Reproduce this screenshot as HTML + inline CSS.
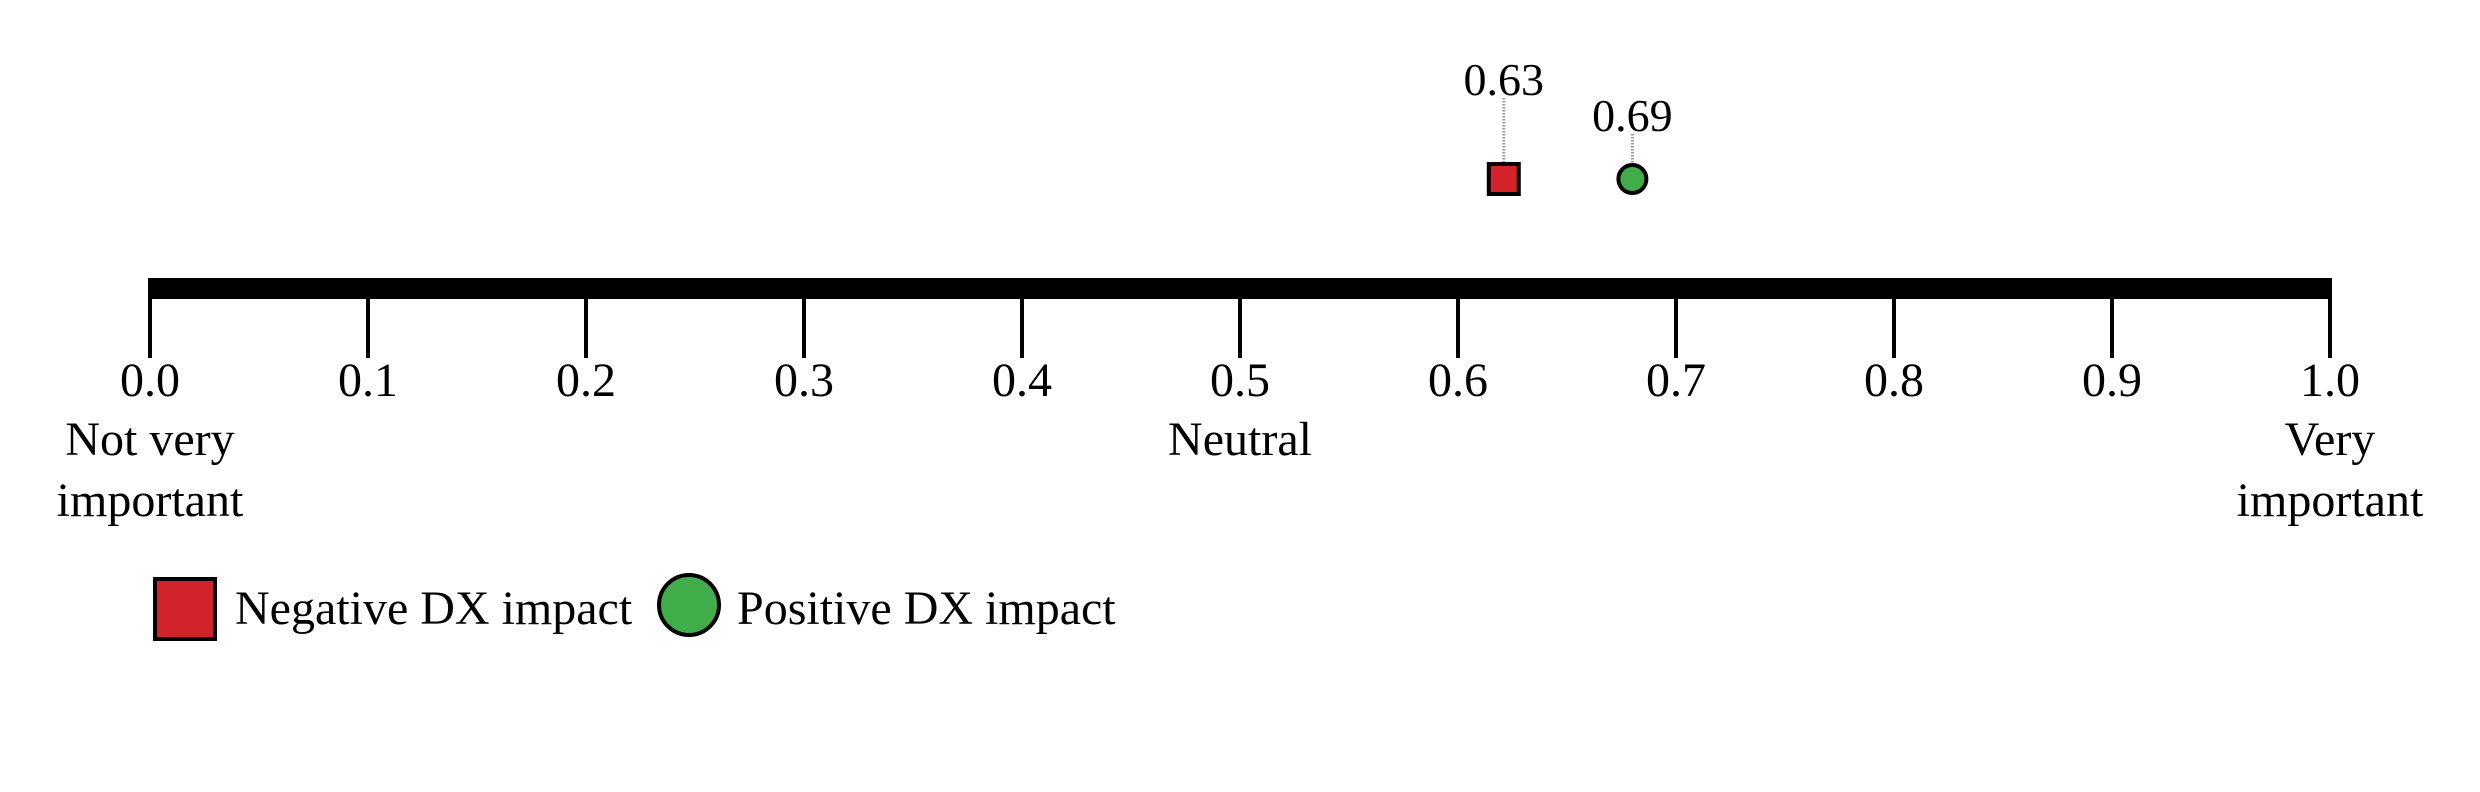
<!DOCTYPE html>
<html><head><meta charset="utf-8"><style>
html,body{margin:0;padding:0;background:#fff;width:2480px;height:792px;overflow:hidden}
svg text{font-family:"Liberation Serif",serif;fill:#000}
</style></head><body>
<svg id="chart" width="2480" height="792" viewBox="0 0 2480 792" xmlns="http://www.w3.org/2000/svg">
<g id="axis"></g>
<g id="marks"></g>
<g id="legend">
  <rect x="155" y="579" width="60" height="60" fill="#d2232a" stroke="#000" stroke-width="4"/>
  <text x="235" y="624" font-size="48">Negative DX impact</text>
  <circle cx="689" cy="605" r="30" fill="#41ac4a" stroke="#000" stroke-width="4"/>
  <text x="737" y="624" font-size="48">Positive DX impact</text>
</g>
</svg>
<script>
const tickValues = [0,0.1,0.2,0.3,0.4,0.5,0.6,0.7,0.8,0.9,1.0];
const tickLabels = ["0.0","0.1","0.2","0.3","0.4","0.5","0.6","0.7","0.8","0.9","1.0"];
const seriesNames = ["Negative DX impact","Positive DX impact"];
const seriesPositions = [0.621,0.680];
const seriesLabels = ["0.63","0.69"];

const NS="http://www.w3.org/2000/svg";
const X0=150,X1=2330;
function xScale(v){return X0+(X1-X0)*v;}
function mk(tag,attrs,parent){const e=document.createElementNS(NS,tag);for(const k in attrs)e.setAttribute(k,attrs[k]);parent.appendChild(e);return e;}
const axis=document.getElementById('axis');
const bar=mk('rect',{x:xScale(0)-2,y:278,width:xScale(1)-xScale(0)+4,height:21,fill:'#000'},axis);


tickValues.forEach((v,i)=>{
  const t=mk('line',{x1:xScale(v),x2:xScale(v),y1:290,y2:358,stroke:'#000','stroke-width':4},axis);
  
  
  const l=mk('text',{x:xScale(v),y:396,'text-anchor':'middle','font-size':48},axis);
  l.textContent=tickLabels[i];
  
  
});
function anchorText(lines,v,name){
  lines.forEach((s,j)=>{
    const l=mk('text',{x:xScale(v),y:455+j*61,'text-anchor':'middle','font-size':48},axis);
    l.textContent=s;
    
    
  });
}
anchorText(["Not very","important"],0,'anchor-label-low');
anchorText(["Neutral"],0.5,'anchor-label-mid');
anchorText(["Very","important"],1,'anchor-label-high');

const marks=document.getElementById('marks');
const cy=179;
const labelY=[95,131];
seriesPositions.forEach((v,i)=>{
  const x=xScale(v);
  const c=mk('line',{x1:x,x2:x,y1:labelY[i]+3,y2:cy-16,stroke:'#999','stroke-width':3,'stroke-dasharray':'1.5 1.5'},marks);
  
  
  let m;
  if(i===0){m=mk('rect',{x:x-15,y:cy-15,width:30,height:30,fill:'#d2232a',stroke:'#000','stroke-width':4},marks);}
  else{m=mk('circle',{cx:x,cy:cy,r:14,fill:'#41ac4a',stroke:'#000','stroke-width':4},marks);}
  
  
  const t=mk('text',{x:x,y:labelY[i],'text-anchor':'middle','font-size':46},marks);
  t.textContent=seriesLabels[i];
  
  
});
</script>
</body></html>
